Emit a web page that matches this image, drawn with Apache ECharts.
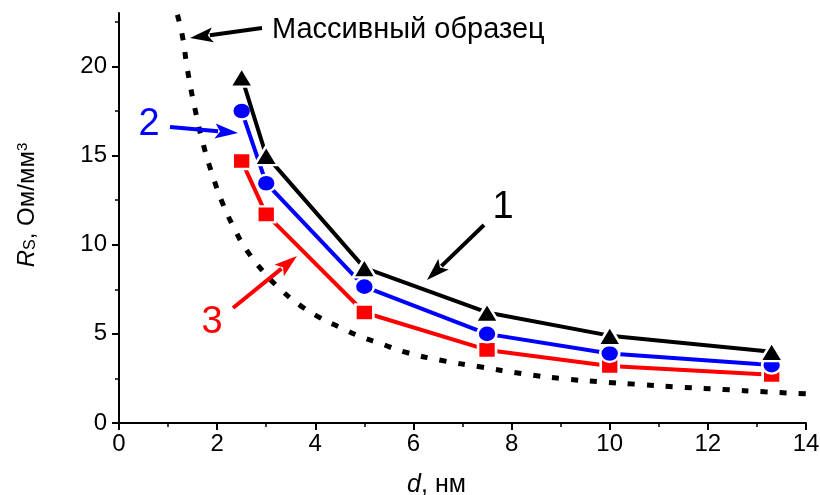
<!DOCTYPE html>
<html>
<head>
<meta charset="utf-8">
<script src="https://cdn.jsdelivr.net/npm/echarts@6/dist/echarts.min.js"></script>
<style>
  html, body { margin: 0; padding: 0; background: #fff; }
  #chart { width: 820px; height: 495px; }
</style>
</head>
<body>
<div id="chart"></div>
<script>
// film thickness, nm
const thickness = [2.5, 3, 5, 7.5, 10, 13.3];
// Rs for the three samples (curves 1, 2, 3)
const sample1 = [19.4, 15.0, 8.7, 6.2, 4.9, 4.0];
const sample2 = [17.5, 13.45, 7.65, 5.0, 3.9, 3.25];
const sample3 = [14.7, 11.7, 6.2, 4.1, 3.2, 2.7];
// bulk sample (dotted curve)
const bulkD = [1.19, 1.3, 1.39, 1.55, 1.72, 1.93, 2.1, 2.37, 2.6, 2.94, 3.29, 3.69, 4.1, 4.51, 4.92, 5.33, 5.8, 6.56, 7.38, 8.21, 9.03, 9.86, 10.68, 11.5, 12.33, 13.16, 14.0];
const bulkR = [22.9, 21.6, 19.9, 17.6, 15.6, 13.7, 12.4, 10.8, 9.7, 8.5, 7.5, 6.6, 5.9, 5.36, 4.85, 4.46, 4.0, 3.52, 3.14, 2.77, 2.49, 2.3, 2.15, 2.0, 1.88, 1.75, 1.64];

const yMajor = [0, 5, 10, 15, 20];
const yMinor = [2.5, 7.5, 12.5, 17.5, 22.5];

const FONT = '"Liberation Sans", Arial, sans-serif';

const zip = (xs, ys) => xs.map((x, i) => [x, ys[i]]);

function arrow(x1, y1, x2, y2, color) {
    // shaft from (x1,y1) to the tip (x2,y2)
    const len = Math.hypot(x2 - x1, y2 - y1);
    const ux = (x2 - x1) / len, uy = (y2 - y1) / len;
    const headLen = 23, headW = 7.5;
    const bx = x2 - ux * headLen, by = y2 - uy * headLen;
    return [
        {
            type: 'line', silent: true, z: 100,
            shape: {x1: x1, y1: y1, x2: bx + ux * 3, y2: by + uy * 3},
            style: {stroke: color, lineWidth: 4}
        },
        {
            type: 'polygon', silent: true, z: 100,
            shape: {points: [[x2, y2], [bx - uy * headW, by + ux * headW], [bx + ux * 5, by + uy * 5], [bx + uy * headW, by - ux * headW]]},
            style: {fill: color}
        }
    ];
}

function label(text, x, y, color, size) {
    return {
        type: 'text', silent: true, z: 100,
        x: x, y: y,
        style: {text: text, fill: color, font: size + 'px ' + FONT, align: 'center', verticalAlign: 'middle'}
    };
}

const chart = echarts.init(document.getElementById('chart'));

const axisText = {color: '#000', fontSize: 24, fontFamily: FONT};

chart.setOption({
    animation: false,
    backgroundColor: '#fff',
    grid: {left: 119, right: 14, top: 13, bottom: 72, containLabel: false, outerBoundsMode: 'none'},
    xAxis: {
        type: 'value', min: 0, max: 14, interval: 2,
        name: '{i|d}{n|, нм}',
        nameLocation: 'middle', nameGap: 50,
        nameTextStyle: {
            padding: [0, 52, 0, 0],
            rich: {
                i: {fontSize: 25, fontStyle: 'italic', fontFamily: FONT, color: '#000'},
                n: {fontSize: 25, fontFamily: FONT, color: '#000'}
            }
        },
        axisLine: {lineStyle: {color: '#000', width: 2}},
        axisTick: {length: 7, lineStyle: {color: '#000', width: 2}},
        minorTick: {show: true, splitNumber: 2, length: 4, lineStyle: {color: '#000', width: 1.5}},
        axisLabel: Object.assign({margin: 9}, axisText),
        splitLine: {show: false}
    },
    yAxis: [
        {
            type: 'value', min: 0, max: 23,
            name: '{i|R}{s|S}{n|, Ом/мм}{p|3}',
            nameLocation: 'middle', nameGap: 80, nameRotate: 90,
            nameTextStyle: {
                padding: [0, 0, 0, 26],
                rich: {
                    i: {fontSize: 24, fontStyle: 'italic', fontFamily: FONT, color: '#000'},
                    s: {fontSize: 16, fontFamily: FONT, color: '#000', verticalAlign: 'bottom', padding: [7, 0, 0, 0]},
                    n: {fontSize: 24, fontFamily: FONT, color: '#000'},
                    p: {fontSize: 15, fontFamily: FONT, color: '#000', verticalAlign: 'top', padding: [0, 0, 9, 0]}
                }
            },
            axisLine: {lineStyle: {color: '#000', width: 2}},
            axisTick: {length: 7, customValues: yMajor, lineStyle: {color: '#000', width: 2}},
            axisLabel: Object.assign({margin: 12, customValues: yMajor}, axisText),
            splitLine: {show: false}
        },
        {
            type: 'value', min: 0, max: 23, position: 'left',
            axisLine: {show: false},
            axisTick: {length: 4, customValues: yMinor, lineStyle: {color: '#000', width: 1.5}},
            axisLabel: {show: false},
            splitLine: {show: false}
        }
    ],
    series: [
        {
            name: 'bulk', type: 'line', smooth: true, showSymbol: false, symbol: 'none',
            data: zip(bulkD, bulkR),
            lineStyle: {color: '#000', width: 5, type: [7, 12]},
            z: 1
        },
        {
            name: '3', type: 'line', data: zip(thickness, sample3),
            symbol: 'rect', symbolSize: [18, 16],
            lineStyle: {color: '#ff0000', width: 4},
            itemStyle: {color: '#ff0000', borderColor: '#fff', borderWidth: 2.5},
            z: 2
        },
        {
            name: '2', type: 'line', data: zip(thickness, sample2),
            symbol: 'circle', symbolSize: [19, 17],
            lineStyle: {color: '#0000ff', width: 4},
            itemStyle: {color: '#0000ff', borderColor: '#fff', borderWidth: 2.5},
            z: 3
        },
        {
            name: '1', type: 'line', data: zip(thickness, sample1),
            symbol: 'triangle', symbolSize: [23, 19],
            lineStyle: {color: '#000', width: 4},
            itemStyle: {color: '#000', borderColor: '#fff', borderWidth: 2.5},
            z: 4
        }
    ],
    graphic: [].concat(
        arrow(262, 28, 190, 38, '#000'),
        arrow(170, 127, 238, 133, '#0000ff'),
        arrow(233, 308, 297, 256, '#ff0000'),
        arrow(484, 225, 427, 280, '#000'),
        [
            {
                type: 'text', silent: true, z: 100, x: 272, y: 30,
                style: {text: 'Массивный образец', fill: '#000', font: '29px ' + FONT, align: 'left', verticalAlign: 'middle'}
            },
            label('2', 149, 125, '#0000ff', 38),
            label('3', 212, 323, '#ff0000', 38),
            label('1', 503, 208, '#000', 38)
        ]
    )
});
</script>
</body>
</html>
